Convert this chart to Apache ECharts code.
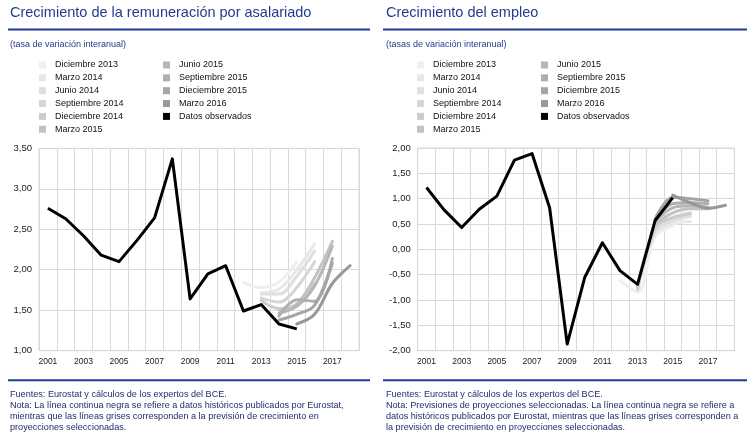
<!DOCTYPE html>
<html><head><meta charset="utf-8">
<script src="https://cdn.jsdelivr.net/npm/echarts@6/dist/echarts.min.js"></script>
<style>html,body{margin:0;padding:0;background:#fff}#c{width:754px;height:444px}</style>
</head><body><div id="c"></div>
<script>
// ---------- DATA ----------
const years = ['2001','2002','2003','2004','2005','2006','2007','2008','2009','2010','2011','2012','2013','2014','2015','2016','2017','2018'];

// Left: compensation per employee, observed (2001-2015)
const remObs = [2.76, 2.63, 2.42, 2.18, 2.10, 2.36, 2.64, 3.37, 1.64, 1.95, 2.05, 1.49, 1.57, 1.33, 1.27];
// Right: employment growth, observed (2001-2015)
const empObs = [1.22, 0.78, 0.43, 0.79, 1.05, 1.76, 1.89, 0.82, -1.87, -0.55, 0.13, -0.42, -0.69, 0.57, 1.02];

// Projection vintages and their first year
const vintageStart = [2012, 2013, 2013, 2013, 2013, 2014, 2014, 2014, 2014, 2015];
const legendLeft  = ['Diciembre 2013','Marzo 2014','Junio 2014','Septiembre 2014','Dieciembre 2014','Marzo 2015','Junio 2015','Septiembre 2015','Dieciembre 2015','Marzo 2016','Datos observados'];
const legendRight = ['Diciembre 2013','Marzo 2014','Junio 2014','Septiembre 2014','Diciembre 2014','Marzo 2015','Junio 2015','Septiembre 2015','Diciembre 2015','Marzo 2016','Datos observados'];

// Left projections (compensation per employee)
const remDic13 = [1.84, 1.78, 1.85, 2.10];
const remMar14 = [1.72, 1.76, 2.00, 2.32];
const remJun14 = [1.70, 1.70, 1.92, 2.23];
const remSep14 = [1.65, 1.60, 1.78, 2.10];
const remDic14 = [1.62, 1.52, 1.55, 1.83];
const remMar15 = [1.50, 1.58, 1.90, 2.35];
const remJun15 = [1.46, 1.55, 1.80, 2.29];
const remSep15 = [1.43, 1.63, 1.61, 2.14];
const remDic15 = [1.38, 1.45, 1.56, 2.08];
const remMar16 = [1.33, 1.45, 1.83, 2.05];

// Right projections (employment)
const empDic13 = [-0.62, -0.84, 0.25, 0.45];
const empMar14 = [-0.82, 0.30, 0.50, 0.55];
const empJun14 = [-0.80, 0.35, 0.56, 0.65];
const empSep14 = [-0.78, 0.40, 0.63, 0.72];
const empDic14 = [-0.75, 0.45, 0.62, 0.70];
const empMar15 = [0.50, 0.72, 0.80, 0.80];
const empJun15 = [0.55, 0.82, 0.86, 0.83];
const empSep15 = [0.58, 0.90, 0.92, 0.90];
const empDic15 = [0.60, 1.03, 1.00, 0.96];
const empMar16 = [1.07, 0.92, 0.81, 0.87];

const yTicksLeft = [1.0, 3.5, 0.5];   // min, max, interval
const yTicksRight = [-2.0, 2.0, 0.5];

// ---------- STYLE ----------
const FONT = 'Liberation Sans, Arial, sans-serif';
const grays = ['#efefef','#e7e9e8','#dfdfdf','#d6d6d6','#cccccc','#c2c2c2','#b9b5b5','#acafac','#a5a5a5','#999799'];
const GRID = '#d9d9d9';
const BLUE = '#1f3c99';
const TXTBLUE = '#263b8f';

function pad(start, vals) {
  const arr = years.map(() => null);
  const i0 = years.indexOf(String(start));
  vals.forEach((v, k) => { arr[i0 + k] = v; });
  return arr;
}

const remProj = [remDic13, remMar14, remJun14, remSep14, remDic14, remMar15, remJun15, remSep15, remDic15, remMar16];
const empProj = [empDic13, empMar14, empJun14, empSep14, empDic14, empMar15, empJun15, empSep15, empDic15, empMar16];

const series = [];
function addSeries(idx, proj, obs, names) {
  proj.forEach((vals, k) => {
    series.push({
      name: names[k], type: 'line', xAxisIndex: idx, yAxisIndex: idx,
      data: pad(vintageStart[k], vals), symbol: 'none', smooth: 0.35,
      lineStyle: { width: 3, color: grays[k], cap: 'round', join: 'round' },
      itemStyle: { color: grays[k] }, silent: true, z: 2 + k * 0.01
    });
  });
  series.push({
    name: names[10], type: 'line', xAxisIndex: idx, yAxisIndex: idx,
    data: pad(2001, obs), symbol: 'none',
    lineStyle: { width: 3, color: '#000', join: 'round' },
    itemStyle: { color: '#000' }, silent: true, z: 3
  });
}
addSeries(0, remProj, remObs, legendLeft);
addSeries(1, empProj, empObs, legendRight);

const fmt = v => v.toFixed(2).replace('.', ',');

function xAx(i) {
  return {
    type: 'category', gridIndex: i, data: years, boundaryGap: true,
    axisLine: { show: true, lineStyle: { color: GRID, width: 1 } },
    axisTick: { show: false },
    axisLabel: { interval: 1, fontSize: 8.5, color: '#1a1a1a', margin: 6, fontFamily: FONT },
    splitLine: { show: true, interval: 0, lineStyle: { color: GRID, width: 1 } }
  };
}
function yAx(i, t) {
  return {
    type: 'value', gridIndex: i, min: t[0], max: t[1], interval: t[2],
    axisLine: { show: false }, axisTick: { show: false },
    axisLabel: { formatter: fmt, fontSize: 9.5, color: '#1a1a1a', margin: 7, fontFamily: FONT },
    splitLine: { show: true, lineStyle: { color: GRID, width: 1 } }
  };
}
function legend(x, names) {
  return {
    data: names, orient: 'vertical', left: x, top: 60.5, padding: 0,
    itemWidth: 7, itemHeight: 7, itemGap: 3.85, icon: 'rect', selectedMode: false,
    itemStyle: { borderWidth: 0 },
    textStyle: { fontSize: 9, color: '#111', fontFamily: FONT, padding: [0, 0, 0, 4] }
  };
}

function txt(x, y, text, size, color, valign) {
  return { type: 'text', x: x, y: y, silent: true,
    style: { text: text, fontSize: size, fontFamily: FONT, fill: color, verticalAlign: valign || 'middle', lineHeight: 11 } };
}
function rule(x1, x2, y) {
  return { type: 'line', silent: true, shape: { x1: x1, y1: y, x2: x2, y2: y }, style: { stroke: BLUE, lineWidth: 2 } };
}

const noteL = 'Fuentes: Eurostat y cálculos de los expertos del BCE.\nNota: La línea continua negra se refiere a datos históricos publicados por Eurostat,\nmientras que las líneas grises corresponden a la previsión de crecimiento en\nproyecciones seleccionadas.';
const noteR = 'Fuentes: Eurostat y cálculos de los expertos del BCE.\nNota: Previsiones de proyecciones seleccionadas. La línea continua negra se refiere a\ndatos históricos publicados por Eurostat, mientras que las líneas grises corresponden a\nla previsión de crecimiento en proyecciones seleccionadas.';

const option = {
  animation: false,
  backgroundColor: '#fff',
  grid: [
    { left: 39, top: 148.3, width: 320, height: 202.4, show: true, borderColor: GRID, borderWidth: 1, backgroundColor: 'transparent', containLabel: false },
    { left: 417.7, top: 148, width: 316.6, height: 202.7, show: true, borderColor: GRID, borderWidth: 1, backgroundColor: 'transparent', containLabel: false }
  ],
  xAxis: [xAx(0), xAx(1)],
  yAxis: [yAx(0, yTicksLeft), yAx(1, yTicksRight)],
  legend: [
    legend(39, legendLeft.slice(0, 6)),
    legend(163, legendLeft.slice(6)),
    legend(417, legendRight.slice(0, 6)),
    legend(541, legendRight.slice(6))
  ],
  series: series,
  graphic: [
    txt(10, 13, 'Crecimiento de la remuneración por asalariado', 14.5, TXTBLUE),
    txt(386, 13, 'Crecimiento del empleo', 14.5, TXTBLUE),
    rule(8, 370, 29.5),
    rule(383, 747, 29.5),
    txt(10, 45, '(tasa de variación interanual)', 9, TXTBLUE),
    txt(386, 45, '(tasas de variación interanual)', 9, TXTBLUE),
    rule(8, 370, 380.3),
    rule(383, 747, 380.3),
    txt(10, 388.5, noteL, 9.1, '#1f2d6e', 'top'),
    txt(386, 388.5, noteR, 9.1, '#1f2d6e', 'top')
  ]
};

const chart = echarts.init(document.getElementById('c'), null, { renderer: 'canvas' });
chart.setOption(option);
</script>
</body></html>
